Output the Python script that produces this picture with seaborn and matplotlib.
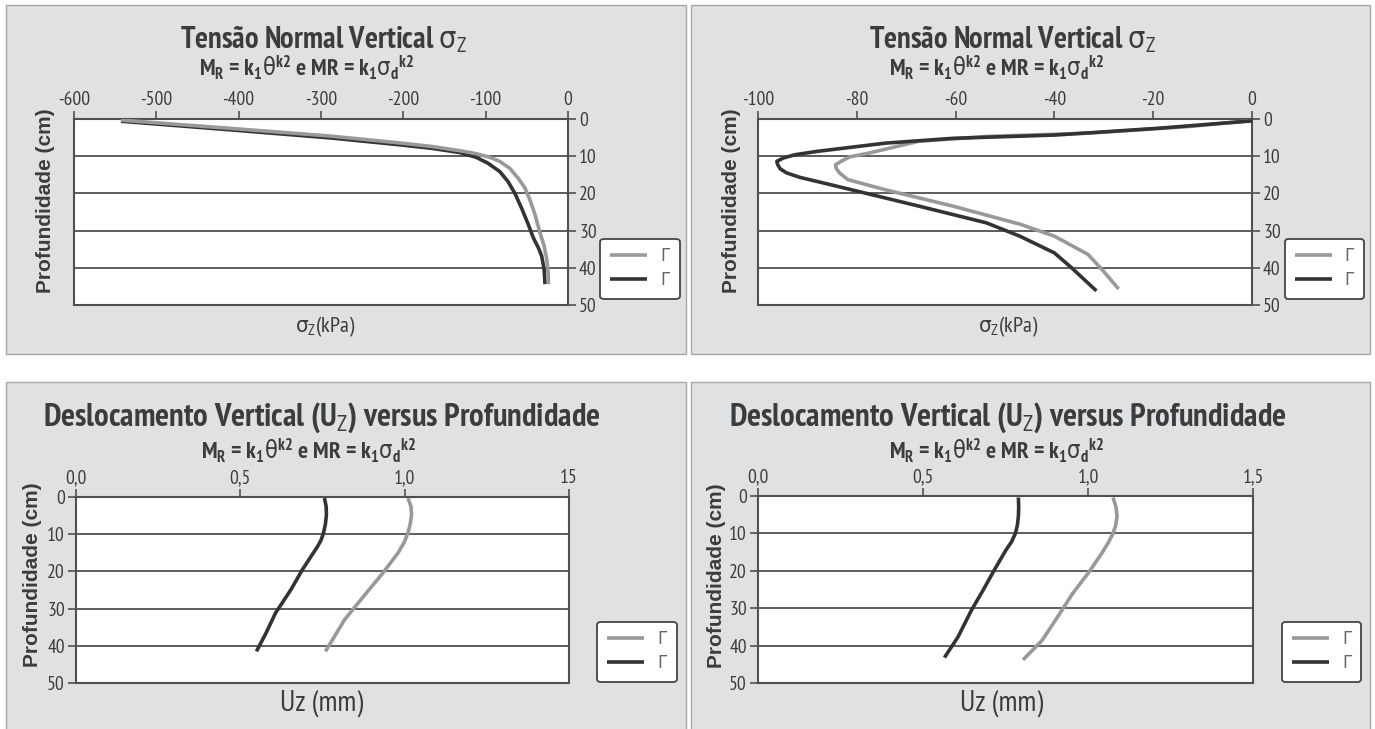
import matplotlib
matplotlib.use("Agg")
import matplotlib.pyplot as plt
from matplotlib import font_manager
from matplotlib.patches import Rectangle
import seaborn as sns
import pandas as pd

# ---------------- data ----------------
# Top-left: sigma_z (kPa) vs depth (cm)
tl_gray_x = [-543, -411, -288, -206, -165, -132, -112, -95.5, -83, -71, -60.6, -52.4,
             -46.3, -40.1, -34.0, -29.0, -25.8, -24.1, -23.7]
tl_gray_y = [0.3, 2.5, 4.6, 6.4, 7.4, 8.5, 9.3, 10.25, 11.4, 13.2, 15.9, 18.5,
             21.7, 25.7, 30.6, 34.1, 37.7, 41.3, 44.4]
tl_black_x = [-543, -411, -288, -206, -165, -132, -112, -97.5, -83, -72.9, -64.7, -56.5,
              -48.3, -42.2, -36.0, -32.0, -29.0, -27.9]
tl_black_y = [0.6, 2.9, 5.1, 6.9, 7.9, 9.0, 10.25, 11.85, 14.1, 16.8, 19.9, 23.9,
              28.3, 31.9, 34.6, 36.8, 40.4, 44.4]

# Top-right
tr_gray_x = [-0.3, -12.6, -33.0, -53.8, -67.5, -77.7, -81.5, -83.2, -84.3, -84.2, -83.5,
             -81.8, -74.3, -60.6, -46.9, -40.0, -33.2, -30.4, -27.0]
tr_gray_y = [0.45, 2.0, 3.8, 4.7, 6.0, 9.2, 10.2, 11.4, 12.3, 13.2, 14.5,
             16.3, 19.0, 23.4, 28.3, 31.5, 36.4, 40.4, 45.7]
tr_black_x = [0.0, -19.0, -39.7, -60.6, -74.3, -88.0, -92.5, -94.9, -96.2, -96.0, -95.5,
              -94.2, -91.5, -88.0, -79.9, -67.5, -53.8, -47.0, -40.0, -36.6, -31.5]
tr_black_y = [0.5, 2.5, 4.3, 5.2, 6.5, 8.7, 9.6, 10.5, 11.4, 12.3, 13.4,
              14.5, 15.7, 16.8, 19.4, 23.4, 27.9, 31.5, 36.0, 39.9, 46.2]

# Bottom-left: Uz (mm) vs depth (cm)
bl_gray_x = [1.010, 1.019, 1.021, 1.017, 1.010, 0.998, 0.980, 0.934, 0.875, 0.817, 0.759]
bl_gray_y = [0.3, 2.5, 4.7, 7.2, 9.7, 12.3, 15.0, 20.4, 26.7, 33.0, 41.5]
bl_black_x = [0.756, 0.761, 0.762, 0.759, 0.753, 0.746, 0.735, 0.689, 0.654, 0.607, 0.578, 0.549]
bl_black_y = [0.3, 2.5, 4.7, 7.2, 9.7, 11.5, 13.3, 19.5, 24.9, 31.2, 36.6, 41.5]

# Bottom-right
br_gray_x = [1.076, 1.085, 1.088, 1.084, 1.076, 1.060, 1.041, 1.000, 0.954, 0.908, 0.861, 0.803]
br_gray_y = [0.4, 3.0, 5.5, 7.8, 10.0, 12.7, 15.4, 20.7, 26.0, 32.3, 38.6, 43.8]
br_black_x = [0.789, 0.790, 0.789, 0.786, 0.780, 0.768, 0.751, 0.716, 0.682, 0.647, 0.606, 0.565]
br_black_y = [0.4, 3.0, 5.5, 7.8, 10.0, 12.3, 14.5, 19.8, 25.2, 30.5, 37.7, 43.2]

depth_ticks = [0, 10, 20, 30, 40, 50]
tl_xticks = [-600, -500, -400, -300, -200, -100, 0]
tr_xticks = [-100, -80, -60, -40, -20, 0]
b_xticks = [0.0, 0.5, 1.0, 1.5]
bl_xlabels = ["0,0", "0,5", "1,0", "15"]
br_xlabels = ["0,0", "0,5", "1,0", "1,5"]
legend_labels = ["Γ", "Γ"]

title_top = r"Tensão Normal Vertical $\mathsf{\sigma}_\mathrm{Z}$"
title_bot = r"Deslocamento Vertical (U$_\mathrm{Z}$) versus Profundidade"
subtitle = (r"M$_\mathbf{R}$ = k$_\mathbf{1}$$\mathsf{\theta}^\mathbf{k2}$ e MR = "
            r"k$_\mathbf{1}$$\mathsf{\sigma}_\mathbf{d}{}^\mathbf{k2}$")
xlabel_top = r"$\mathsf{\sigma}_\mathrm{Z}$(kPa)"
xlabel_bot = "Uz (mm)"
ylabel = "Profundidade (cm)"

# ---------------- style ----------------
sns.set_theme(style="white")
names = {f.name for f in font_manager.fontManager.ttflist}
NARROW = None
for cand in ("PT Sans Narrow", "Liberation Sans Narrow", "Cabin Condensed"):
    if cand in names:
        NARROW = cand
        break
STRETCH = "normal"
if NARROW is None:
    NARROW = "DejaVu Sans"
    STRETCH = "condensed"
WIDE = "Liberation Sans"

plt.rcParams["font.family"] = [NARROW, "DejaVu Sans"]
plt.rcParams["font.stretch"] = STRETCH
plt.rcParams["mathtext.fontset"] = "custom"
plt.rcParams["mathtext.rm"] = NARROW
plt.rcParams["mathtext.it"] = NARROW + ":italic"
plt.rcParams["mathtext.bf"] = NARROW + ":bold"
plt.rcParams["mathtext.sf"] = "DejaVu Sans:stretch=condensed"
plt.rcParams["mathtext.fallback"] = "stixsans"

W, H = 1375, 729
fig = plt.figure(figsize=(W / 100, H / 100), dpi=100)
fig.patch.set_facecolor("white")

TXT = "#3c3c3c"
SPINE = "#505050"
GRAY = "#999999"
BLACK = "#333333"
PANEL = "#e0e1e3"


def fx(px):
    return px / W


def fy(py):
    return 1 - py / H


def add_panel(l, t, r, b):
    fig.patches.append(Rectangle((fx(l), fy(b)), fx(r - l), (b - t) / H,
                                 transform=fig.transFigure, facecolor=PANEL,
                                 edgecolor="#a8a8a8", linewidth=1.0, zorder=-10))


add_panel(6, 5, 686, 354)
add_panel(691, 5, 1370, 354)
add_panel(6, 382, 686, 732)
add_panel(691, 382, 1370, 732)


def make_axes(l, r, t, b):
    ax = fig.add_axes([fx(l), fy(b), fx(r - l), (b - t) / H])
    ax.set_zorder(1)
    return ax


def style_axes(ax, xlim, xticks, xlabels, yside):
    ax.set_facecolor("white")
    ax.set_xlim(*xlim)
    ax.set_ylim(50, 0)
    ax.set_yticks(depth_ticks)
    ax.set_xticks(xticks)
    ax.set_xticklabels(xlabels)
    for yv in [10, 20, 30, 40]:
        ax.axhline(yv, color=SPINE, lw=1.3, zorder=1)
    for s in ax.spines.values():
        s.set_color(SPINE)
        s.set_linewidth(1.5)
        s.set_visible(True)
    ax.xaxis.tick_top()
    if yside == "right":
        ax.yaxis.tick_right()
    else:
        ax.yaxis.tick_left()
    ax.tick_params(axis="both", direction="out", length=6, width=1.2, color=SPINE,
                   labelsize=14, labelcolor=TXT, pad=2)
    ax.tick_params(axis="x", pad=1)
    ax.set_xlabel("")
    ax.set_ylabel("")


def draw_series(ax, gx, gy, bx, by, gray_top):
    d1 = pd.DataFrame({"x": gx, "y": gy})
    d2 = pd.DataFrame({"x": bx, "y": by})
    sns.lineplot(data=d1, x="x", y="y", sort=False, estimator=None, color=GRAY,
                 lw=2.6, ax=ax, label=legend_labels[0], zorder=5 if gray_top else 3)
    sns.lineplot(data=d2, x="x", y="y", sort=False, estimator=None, color=BLACK,
                 lw=2.6, ax=ax, label=legend_labels[1], zorder=4)
    for ln in ax.get_lines():
        ln.set_solid_joinstyle("round")
        ln.set_solid_capstyle("butt")


def add_legend(ax, l, t, r, b):
    cx = fx((l + r) / 2)
    cy = fy((t + b) / 2)
    leg = ax.legend(loc="center", bbox_to_anchor=(cx, cy), bbox_transform=fig.transFigure,
                    frameon=True, fancybox=True, framealpha=1, edgecolor="#444444",
                    facecolor="white", fontsize=12, handlelength=2.2, handletextpad=0.8,
                    borderpad=0.6, labelspacing=0.5, borderaxespad=0)
    leg.get_frame().set_linewidth(1.3)
    for t_ in leg.get_texts():
        t_.set_color("#666666")


# ---- panels ----
axes_specs = [
    (74, 568, 119, 305, (-600, 0), tl_xticks, [str(v) for v in tl_xticks], "right",
     tl_gray_x, tl_gray_y, tl_black_x, tl_black_y, (601, 239, 679, 299), True),
    (758, 1252, 119, 305, (-100, 0), tr_xticks, [str(v) for v in tr_xticks], "right",
     tr_gray_x, tr_gray_y, tr_black_x, tr_black_y, (1287, 239, 1362, 299), False),
    (76, 569, 497, 683, (0, 1.5), b_xticks, bl_xlabels, "left",
     bl_gray_x, bl_gray_y, bl_black_x, bl_black_y, (598, 622, 676, 682), False),
    (758, 1253, 496, 683, (0, 1.5), b_xticks, br_xlabels, "left",
     br_gray_x, br_gray_y, br_black_x, br_black_y, (1284, 622, 1359, 682), False),
]

for (l, r, t, b, xlim, xt, xl, side, gx, gy, bx, by, legbox, gtop) in axes_specs:
    ax = make_axes(l, r, t, b)
    draw_series(ax, gx, gy, bx, by, gtop)
    style_axes(ax, xlim, xt, xl, side)
    add_legend(ax, *legbox)

# ---- texts ----
for cx in (324, 1013):
    fig.text(fx(cx), fy(40), title_top, ha="center", va="center", fontsize=22,
             fontweight="bold", color=TXT)
for cx in (307, 997):
    fig.text(fx(cx), fy(68), subtitle, ha="center", va="center", fontsize=17,
             fontweight="bold", color=TXT)
for cx in (322, 1008):
    fig.text(fx(cx), fy(418), title_bot, ha="center", va="center", fontsize=23.5,
             fontweight="bold", color=TXT)
for cx in (309, 997):
    fig.text(fx(cx), fy(451), subtitle, ha="center", va="center", fontsize=17,
             fontweight="bold", color=TXT)
for cx in (325, 1008):
    fig.text(fx(cx), fy(327), xlabel_top, ha="center", va="center", fontsize=16, color=TXT)
for cx in (322, 1002):
    fig.text(fx(cx), fy(703), xlabel_bot, ha="center", va="center", fontsize=21, color=TXT)
for (cx, cy) in ((46, 201), (731, 201), (33, 575), (716, 576)):
    fig.text(fx(cx), fy(cy), ylabel, ha="center", va="center", rotation=90,
             fontsize=15, fontweight="bold", color=TXT, family=[WIDE, "DejaVu Sans"],
             fontstretch="normal")

fig.savefig("out.png", dpi=100, facecolor="white")
